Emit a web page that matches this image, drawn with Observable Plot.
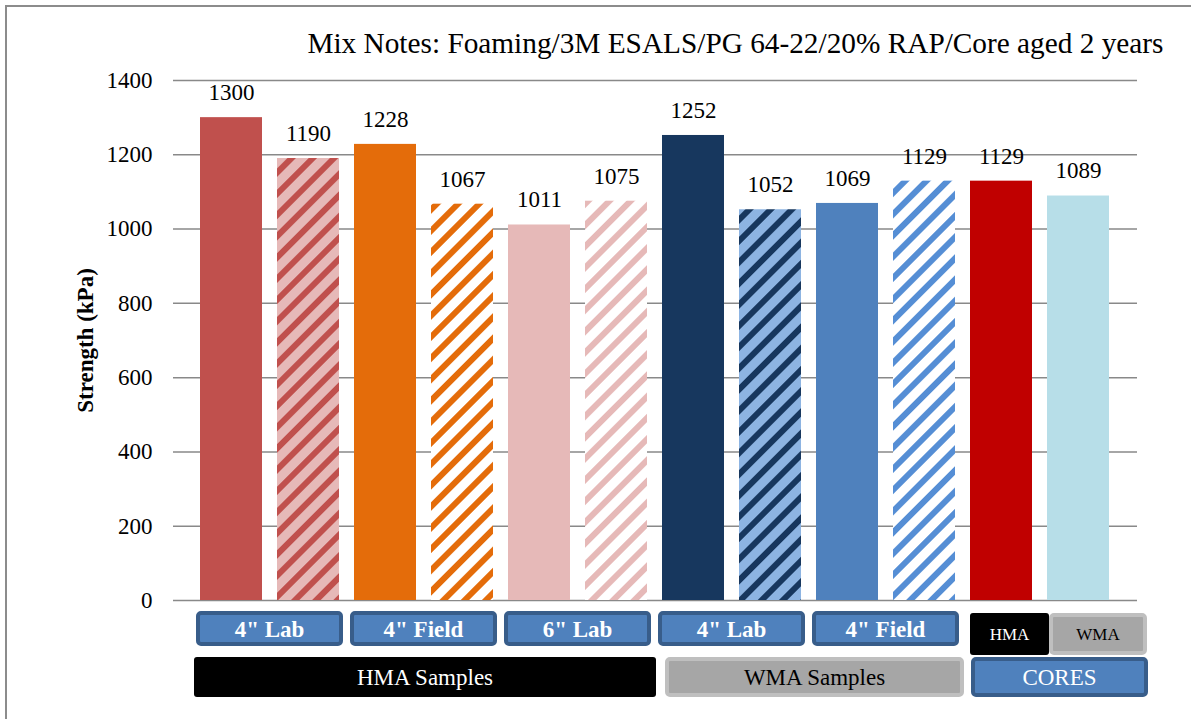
<!DOCTYPE html>
<html><head><meta charset="utf-8">
<script src="https://cdn.jsdelivr.net/npm/d3@7"></script>
<script src="https://cdn.jsdelivr.net/npm/@observablehq/plot@0.6"></script>
<style>
html,body{margin:0;padding:0;background:#fff;}
#frame{position:absolute;left:5px;top:5px;width:1186px;height:714px;border-top:2px solid #8c8c8c;border-left:2px solid #8c8c8c;box-sizing:border-box;}
#chart{position:absolute;left:0;top:0;}
#chart svg, #chart svg text{font-family:'Liberation Serif','Times New Roman',serif !important;}
</style></head><body>
<div id="frame"></div><div id="chart"></div>
<script>
// ---- data ----
const barIds = ["HMA-4L-1","HMA-4L-2","HMA-4F-1","HMA-4F-2","HMA-6L-1","HMA-6L-2",
                "WMA-4L-1","WMA-4L-2","WMA-4F-1","WMA-4F-2","CORE-HMA","CORE-WMA"];
const strengths = [1300,1190,1228,1067,1011,1075,1252,1052,1069,1129,1129,1089];
const yTicks = [0,200,400,600,800,1000,1200,1400];
const titleText = "Mix Notes: Foaming/3M ESALS/PG 64-22/20% RAP/Core aged 2 years";
const yLabel = "Strength (kPa)";
const sizeLabels = ['4" Lab','4" Field','6" Lab','4" Lab','4" Field'];
const sizeGroups = [[0,1],[2,3],[4,5],[6,7],[8,9]];
const coreLabels = ["HMA","WMA"];
const mixLabels = ["HMA Samples","WMA Samples","CORES"];
const mixGroups = [[0,5],[6,9],[10,11]];

// ---- styles ----
const barStyles = [
  {fill:"#C0504D"},
  {bg:"#E6B9B8", stripe:"#C0504D"},
  {fill:"#E46C0A"},
  {bg:"#FFFFFF", stripe:"#E46C0A"},
  {fill:"#E6B9B8"},
  {bg:"#FFFFFF", stripe:"#E6B9B8"},
  {fill:"#17375E"},
  {bg:"#8DB4E2", stripe:"#17375E"},
  {fill:"#4F81BD"},
  {bg:"#FFFFFF", stripe:"#558ED5"},
  {fill:"#C00000"},
  {fill:"#B7DEE8"}
];

const data = barIds.map((id,i)=>({id, value: strengths[i],
  fill: barStyles[i].fill ? barStyles[i].fill : `url(#hatch${i})`}));

const W = 1191, H = 719;
const FONT = "'Liberation Serif','Times New Roman',serif";

const plot = Plot.plot({
  width: W, height: H,
  marginTop: 80, marginBottom: 119, marginLeft: 173, marginRight: 54,
  style: {fontFamily: FONT, fontSize: "23px", background: "transparent", color: "#000", overflow: "visible"},
  x: {type: "band", domain: barIds, paddingInner: 0.19, paddingOuter: 0.3, axis: null},
  y: {domain: [0,1400], axis: null},
  color: {type: "identity"},
  marks: [
    Plot.gridY(yTicks, {stroke: "#898989", strokeOpacity: 1, strokeWidth: 1.5}),
    Plot.axisY(yTicks, {tickSize: 0, tickPadding: 21, label: null, tickFormat: d => String(d),
                        fontSize: 23, fontFamily: FONT, fill: "#000"}),
    Plot.barY(data, {x: "id", y: "value", fill: "fill"}),
    Plot.text(data, {x: "id", y: "value", text: d => String(d.value), dy: -25,
                     fontSize: 23, fontFamily: FONT, fill: "#000"}),
    Plot.text([yLabel], {frameAnchor: "left", dx: -88, rotate: -90, textAnchor: "middle",
                         fontWeight: "bold", fontSize: 23, fontFamily: FONT, fill: "#000"}),
    Plot.text([titleText], {frameAnchor: "top-right", dx: 26, dy: -37, textAnchor: "end",
                            lineAnchor: "middle", fontSize: 29.3, fontFamily: FONT, fill: "#000"})
  ]
});

document.getElementById("chart").appendChild(plot);

// patterns
const svg = d3.select(plot);
const defs = svg.insert("defs", ":first-child");
barStyles.forEach((s,i) => {
  if (!s.stripe) return;
  const p = defs.append("pattern").attr("id", `hatch${i}`)
    .attr("patternUnits","userSpaceOnUse").attr("width",15).attr("height",15)
    .attr("patternTransform","rotate(45)");
  p.append("rect").attr("width",15).attr("height",15).attr("fill",s.bg);
  p.append("rect").attr("x",0).attr("width",6).attr("height",15).attr("fill",s.stripe);
});

// category boxes below axis, positioned from Plot's x scale
const sx = plot.scale("x");
const bw = sx.bandwidth;
const left = i => sx.apply(barIds[i]);
const right = i => sx.apply(barIds[i]) + bw;

function box(g, x1, x2, y1, y2, fill, stroke, sw, rx) {
  g.append("rect").attr("x", x1 + sw/2).attr("y", y1 + sw/2)
    .attr("width", x2 - x1 - sw).attr("height", y2 - y1 - sw)
    .attr("rx", rx).attr("fill", fill)
    .attr("stroke", stroke || "none").attr("stroke-width", sw);
}
function label(g, x, y, t, color, size, weight) {
  g.append("text").attr("x", x).attr("y", y).attr("dy", "0.35em")
    .attr("text-anchor", "middle").attr("fill", color)
    .style("font-size", size + "px").style("font-weight", weight || "normal")
    .style("font-family", FONT).text(t);
}
const g = svg.append("g");
sizeGroups.forEach(([a,b], k) => {
  const x1 = left(a) - 4, x2 = right(b) + 4;
  box(g, x1, x2, 611, 646, "#4F81BD", "#385D8A", 4, 3);
  label(g, (x1+x2)/2, 629, sizeLabels[k], "#fff", 23, "bold");
});
// cores sub-boxes
{
  const x1 = left(10), xm = left(10) + 79, x2 = right(11) + 38;
  box(g, x1, xm, 613, 655, "#000", null, 0, 3);
  label(g, (x1+xm)/2, 634, coreLabels[0], "#fff", 17);
  box(g, xm, x2, 613, 655, "#A6A6A6", "#BFBFBF", 4, 3);
  label(g, (xm+x2)/2, 634, coreLabels[1], "#000", 17);
}
// mix row
{
  const specs = [
    {fill:"#000", stroke:null, sw:0, color:"#fff", pad:[-6,9]},
    {fill:"#A6A6A6", stroke:"#BFBFBF", sw:4, color:"#000", pad:[3,9]},
    {fill:"#4F81BD", stroke:"#385D8A", sw:4, color:"#fff", pad:[1,39]}
  ];
  mixGroups.forEach(([a,b], k) => {
    const s = specs[k];
    const x1 = left(a) + s.pad[0], x2 = right(b) + s.pad[1];
    box(g, x1, x2, 657, 697, s.fill, s.stroke, s.sw, 3);
    label(g, (x1+x2)/2, 677, mixLabels[k], s.color, 23);
  });
}
</script></body></html>
